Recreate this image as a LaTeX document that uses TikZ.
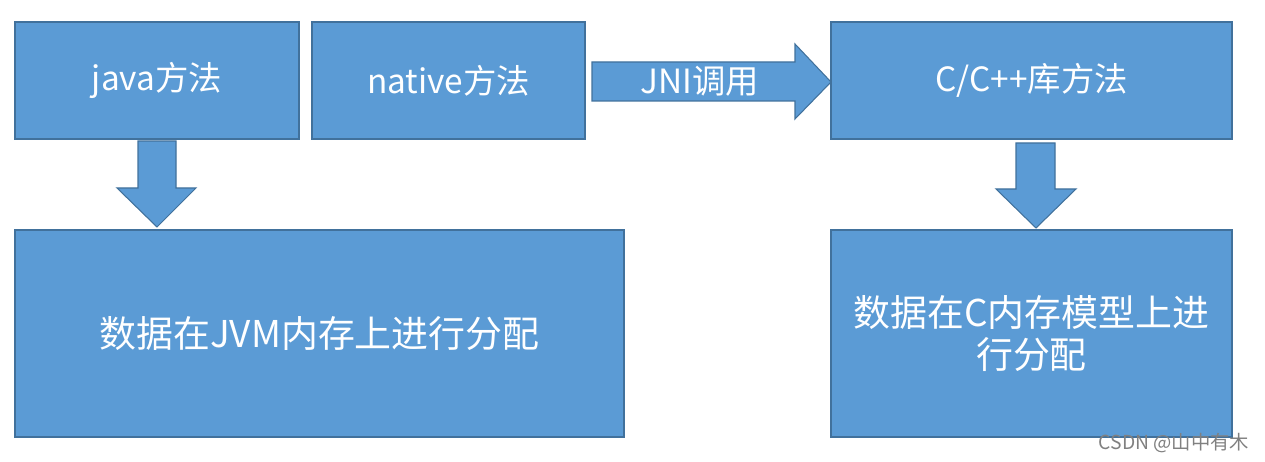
\documentclass[tikz,border=0pt]{standalone}
\usepackage{fontspec}
\newfontfamily\cjk{Noto Sans CJK SC}
\usepackage{tikz}
\usetikzlibrary{calc}
\definecolor{boxblue}{RGB}{91,155,213}
\definecolor{bordblue}{RGB}{65,113,156}
\newcommand{\pxu}{0.02cm}

\tikzset{
  blk/.style={draw=bordblue, fill=boxblue, line width=0.6pt, text=white, inner sep=0pt, align=center,
    font=\cjk\fontsize{19}{22}\selectfont},
  bigblk/.style={blk, font=\cjk\fontsize{21}{25}\selectfont},
  fatarrow/.style={draw=bordblue, fill=boxblue, line width=0.6pt, line join=miter}
}

\begin{document}
\begin{tikzpicture}[x=\pxu, y=-\pxu]
  \useasboundingbox (0,0) rectangle (1265,462);
  %--- top row
    \node[blk, minimum width=284*\pxu, minimum height=117*\pxu] (java) at (157,80.5) {java方法};
    \node[blk, minimum width=273*\pxu, minimum height=117*\pxu] (native) at (448.5,80.5) {native方法};
    \node[blk, minimum width=401*\pxu, minimum height=117*\pxu] (cpp) at (1031.5,80.5) {C/C++库方法};
  %--- bottom row
    \node[bigblk, minimum width=609*\pxu, minimum height=207*\pxu] (jvm) at (319.5,333.5) {数据在JVM内存上进行分配};
    \node[bigblk, minimum width=401*\pxu, minimum height=207*\pxu] (cmem) at (1031.5,333.5) {数据在C内存模型上进\\[-1pt]行分配};
  %--- java -> jvm
    \draw[fatarrow] (138,141) -- (176,141) -- (176,188) -- (196,188) -- (157,227)
      -- (117,188) -- (138,188) -- cycle;
  %--- native -> cpp (JNI)
    \draw[fatarrow] (592,62) -- (795,62) -- (795,44) -- (831,82) -- (795,119)
      -- (795,101) -- (592,101) -- cycle;
    \node[text=white, font=\cjk\fontsize{19}{22}\selectfont] (jni) at (700,81) {JNI调用};
  %--- cpp -> cmem
    \draw[fatarrow] (1016,143) -- (1055,143) -- (1055,189) -- (1076,189) -- (1036,228)
      -- (996,189) -- (1016,189) -- cycle;
  %--- mark
    \node[text=gray, font=\cjk\fontsize{11}{13}\selectfont] (mark) at (1174,443) {CSDN @山中有木};
\end{tikzpicture}
\end{document}
